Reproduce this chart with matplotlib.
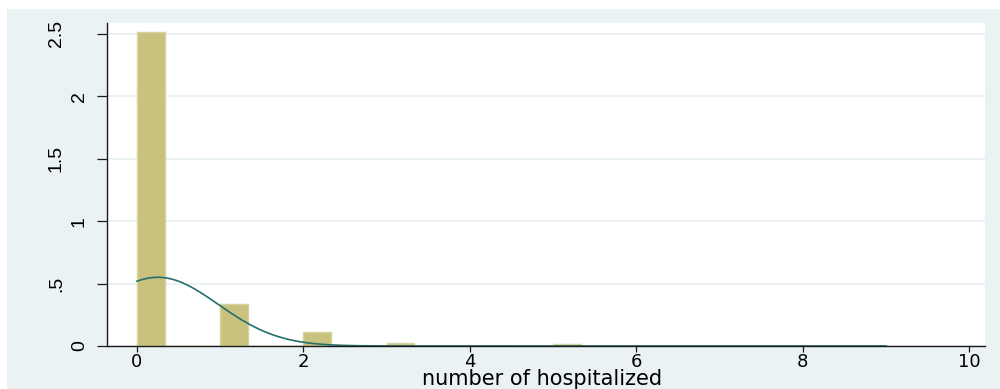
import numpy as np
import matplotlib
matplotlib.use("Agg")
import matplotlib.pyplot as plt
from matplotlib.patches import Rectangle
from matplotlib.transforms import ScaledTranslation

# Observed values of the count variable and the histogram density of each one's bin
values = [0, 1, 2, 3, 4, 5, 6, 9]
densities = [2.51, 0.335, 0.112, 0.021, 0.004, 0.014, 0.004, 0.004]

# Normal density overlay parameters
norm_mean = 0.25
norm_sd = 0.725

# Axis ticks
x_ticks = [0, 2, 4, 6, 8, 10]
y_ticks = [0, 0.5, 1, 1.5, 2, 2.5]
y_tick_labels = ["0", ".5", "1", "1.5", "2", "2.5"]
x_label = "number of hospitalized"

n_bins = 27
x_min, x_max = 0, 9

BG = "#eaf2f3"
BAR_FILL = "#c9c27f"
BAR_EDGE = "#d8d29f"
LINE = "#23706b"
AXIS = "#1a1a1a"

plt.rcParams["font.family"] = ["Liberation Sans", "DejaVu Sans"]
WIDE = ["DejaVu Sans"]

fig = plt.figure(figsize=(10, 3.89), dpi=100, facecolor="white")
# graph region background
fig.patches.append(Rectangle((0.007, 0.0), 0.993, 380 / 389, transform=fig.transFigure,
                             facecolor=BG, edgecolor="none", zorder=-10))

ax = fig.add_axes([0.107, 43 / 389, 0.878, 323 / 389], zorder=1)
ax.set_facecolor("white")

edges = np.linspace(x_min, x_max, n_bins + 1)
ax.hist(values, bins=edges, weights=densities, color=BAR_FILL,
        edgecolor=BAR_EDGE, linewidth=1.0, zorder=2)

xs = np.linspace(x_min, x_max, 400)
ys = np.exp(-0.5 * ((xs - norm_mean) / norm_sd) ** 2) / (norm_sd * np.sqrt(2 * np.pi))
ax.plot(xs, ys, color=LINE, linewidth=1.2, zorder=3)

ax.set_xlim(-0.3604, 10.189)
ax.set_ylim(0, 2.586)

ax.set_yticks(y_ticks)
ax.set_yticklabels(y_tick_labels, rotation=90, va="center", fontsize=14)
ax.set_xticks(x_ticks)
ax.set_xticklabels([str(t) for t in x_ticks], fontsize=13, family=WIDE)

ax.yaxis.grid(True, color=BG, linewidth=1.4, zorder=0)
ax.set_axisbelow(True)

for side in ("top", "right"):
    ax.spines[side].set_visible(False)
for side in ("left", "bottom"):
    ax.spines[side].set_color(AXIS)
    ax.spines[side].set_linewidth(1.0)
    ax.spines[side].set_zorder(4)

ax.tick_params(axis="y", length=7.2, width=0.9, color=AXIS, pad=6.5)
ax.tick_params(axis="x", length=4.0, width=0.9, color=AXIS, pad=1.0)

# multi-character rotated labels sit further from the axis
for lab in ax.get_yticklabels():
    if len(lab.get_text()) > 1:
        lab.set_transform(lab.get_transform() + ScaledTranslation(-0.23, 0, fig.dpi_scale_trans))

ax.set_xlabel(x_label, fontsize=15, family=WIDE)
ax.xaxis.label.set_va("baseline")
ax.xaxis.set_label_coords(0.496, -39 / 323)

fig.savefig("out.png", dpi=100, facecolor="white")
